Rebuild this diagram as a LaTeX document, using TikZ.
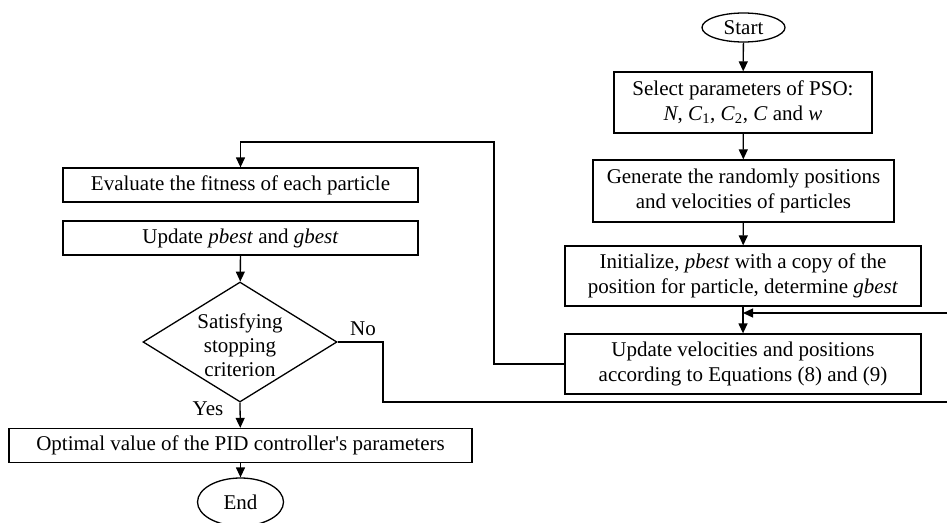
\documentclass[tikz,border=0pt]{standalone}
\usepackage{fontspec}
\setmainfont{Liberation Serif}
\usetikzlibrary{shapes.geometric,arrows.meta}

\begin{document}
\begin{tikzpicture}[x=1pt, y=-1pt, line width=1.3pt,
		font=\fontsize{21}{25}\selectfont,
		box/.style={draw, rectangle, align=center, inner sep=0pt},
		term/.style={draw, ellipse, inner sep=0pt},
		decision/.style={draw, diamond, inner sep=0pt},
		>={Triangle[length=10pt,width=9pt]}]
		\useasboundingbox (0,0) rectangle (947,522);
		\clip (0,0) rectangle (947,522);
		% right column
		\node[term, minimum width=83pt, minimum height=29pt] (start) at (743.5,27.5) {Start};
		\node[box, minimum width=258pt, minimum height=61pt] (select) at (743,102.5)
		{Select parameters of PSO:\\\textit{N}, \textit{C}\textsubscript{1}, \textit{C}\textsubscript{2}, \textit{C} and \textit{w}};
		\node[box, minimum width=301pt, minimum height=62pt] (generate) at (743.5,191)
		{Generate the randomly positions\\and velocities of particles};
		\node[box, minimum width=356pt, minimum height=60pt] (init) at (743,276)
		{Initialize, \textit{pbest} with a copy of the\\position for particle, determine \textit{gbest}};
		\node[box, minimum width=356pt, minimum height=60pt] (update) at (743,364)
		{Update velocities and positions\\according to Equations (8) and (9)};
		% left column
		\node[box, minimum width=355pt, minimum height=34pt] (evaluate) at (240.5,185)
		{Evaluate the fitness of each particle};
		\node[box, minimum width=355pt, minimum height=34pt] (bests) at (240.5,238)
		{Update \textit{pbest} and \textit{gbest}};
		\node[decision, minimum width=194pt, minimum height=120pt] (check) at (240,342) {};
		\node[align=center, font=\fontsize{21}{24}\selectfont] (checktext) at (240,345)
		{Satisfying\\stopping\\criterion};
		\node[box, minimum width=463pt, minimum height=34pt] (optimal) at (240.5,445.5)
		{Optimal value of the PID controller\textquotesingle s parameters};
		\node[term, minimum width=86pt, minimum height=48pt] (end) at (240.5,502) {End};
		\node (no) at (363,329) {No};
		\node (yes) at (208,409) {Yes};
		\coordinate (loopup) at (494,142);
		\coordinate (noturn) at (383,402);
		\coordinate (rback) at (960,313);
		\coordinate (join) at (743,313);
		\draw[->] (start) -- (select);
		\draw[->] (select) -- (generate);
		\draw[->] (generate) -- (init);
		\draw[->] (init) -- (update);
		\draw[->] (update.west) -| (loopup) -| (evaluate.north);
		\draw[->] (bests) -- (check);
		\draw[->] (check.south) -- (optimal);
		\draw[->] (optimal) -- (end);
		\draw[->] (check.east) -| (noturn) -| (rback) -- (join);
		\end{tikzpicture}
\end{document}
